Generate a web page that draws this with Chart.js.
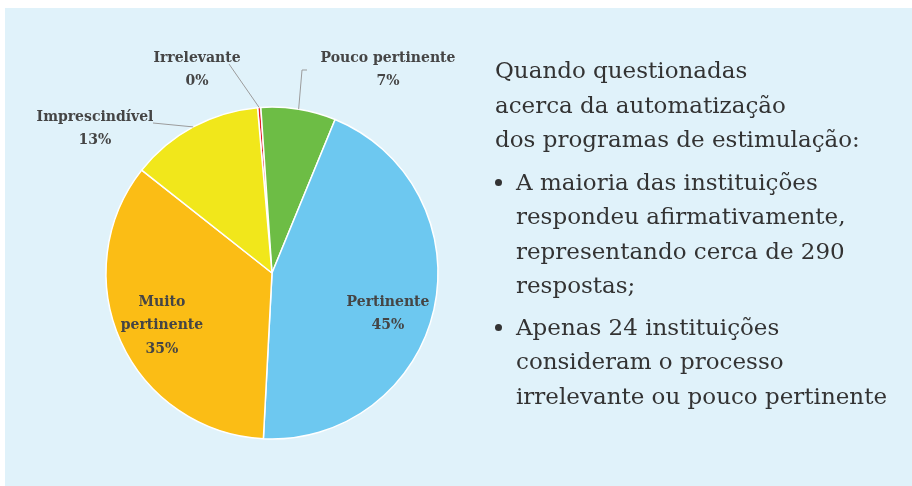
<!DOCTYPE html>
<html>
<head>
<meta charset="utf-8">
<script src="https://cdn.jsdelivr.net/npm/chart.js@4.4.1/dist/chart.umd.min.js"></script>
<style>
  html, body { margin: 0; padding: 0; background: #ffffff; }
  #panel { position: absolute; left: 5px; top: 8px; width: 907px; height: 478px; background: #e0f2fa; }
  #wrap { position: absolute; left: 0; top: 0; width: 534px; height: 478px; }
  #txt { position: absolute; left: 490px; top: 45px; width: 420px; color: #333333;
         font-family: "DejaVu Serif", serif; font-size: 23px; line-height: 34.5px; white-space: nowrap; }
  #txt ul { margin: 8px 0 0 0; padding: 0 0 0 21px; }
  #txt li { margin-bottom: 7px; }
</style>
</head>
<body>
<div id="panel">
  <div id="wrap"><canvas id="myChart" width="534" height="478"></canvas></div>
  <div id="txt">
    Quando questionadas<br>acerca da automatização<br>dos programas de estimulação:
    <ul>
      <li>A maioria das instituições<br>respondeu afirmativamente,<br>representando cerca de 290<br>respostas;</li>
      <li>Apenas 24 instituições<br>consideram o processo<br>irrelevante ou pouco pertinente</li>
    </ul>
  </div>
</div>
<script>
const labels = ["Irrelevante", "Pouco pertinente", "Pertinente", "Muito pertinente", "Imprescindível"];
const values = [1, 23, 141, 110, 41];
const colors = ["#e3202a", "#6dbd45", "#6dc8f0", "#fbbd15", "#f1e71b"];

// where each label sits, relative to the pie centre (line breaks inside label)
const labelLayout = [
  { lines: ["Irrelevante"], dx: -75, dy: -215, leader: [[-43, -209]] },
  { lines: ["Pouco pertinente"], dx: 116, dy: -215, leader: [[35, -203], [30, -203]] },
  { lines: ["Pertinente"], dx: 116, dy: 29 },
  { lines: ["Muito", "pertinente"], dx: -110, dy: 29 },
  { lines: ["Imprescindível"], dx: -177, dy: -156, leader: [[-119, -150]] },
];

const total = values.reduce((a, b) => a + b, 0);

const pieLabels = {
  id: "pieLabels",
  afterDatasetsDraw(chart) {
    const ctx = chart.ctx;
    const meta = chart.getDatasetMeta(0);
    ctx.save();
    meta.data.forEach((arc, i) => {
      const lay = labelLayout[i];
      const cx = arc.x, cy = arc.y;
      if (lay.leader) {
        const mid = (arc.startAngle + arc.endAngle) / 2;
        ctx.strokeStyle = "#9b9b9b";
        ctx.lineWidth = 1;
        ctx.beginPath();
        ctx.moveTo(cx + lay.leader[0][0], cy + lay.leader[0][1]);
        for (let k = 1; k < lay.leader.length; k++) {
          ctx.lineTo(cx + lay.leader[k][0], cy + lay.leader[k][1]);
        }
        ctx.lineTo(cx + Math.cos(mid) * arc.outerRadius, cy + Math.sin(mid) * arc.outerRadius);
        ctx.stroke();
      }
      const pct = Math.round(values[i] / total * 100) + "%";
      const lines = lay.lines.concat([pct]);
      ctx.fillStyle = "#454545";
      ctx.font = "bold 14px 'DejaVu Serif'";
      ctx.textAlign = "center";
      ctx.textBaseline = "middle";
      lines.forEach((t, k) => {
        ctx.fillText(t, cx + lay.dx, cy + lay.dy + k * 23.5);
      });
    });
    ctx.restore();
  }
};

const data = {
  labels: labels,
  datasets: [{
    data: values,
    backgroundColor: colors,
    borderColor: "#ffffff",
    borderWidth: 1.5,
  }],
};

const config = {
  type: "pie",
  data: data,
  options: {
    responsive: false,
    animation: false,
    rotation: -5,
    radius: 166,
    layout: { padding: { left: 101, right: 101, top: 99, bottom: 47 } },
    plugins: {
      legend: { display: false },
      tooltip: { enabled: false },
    },
  },
  plugins: [pieLabels],
};

new Chart(document.getElementById("myChart"), config);
</script>
</body>
</html>
